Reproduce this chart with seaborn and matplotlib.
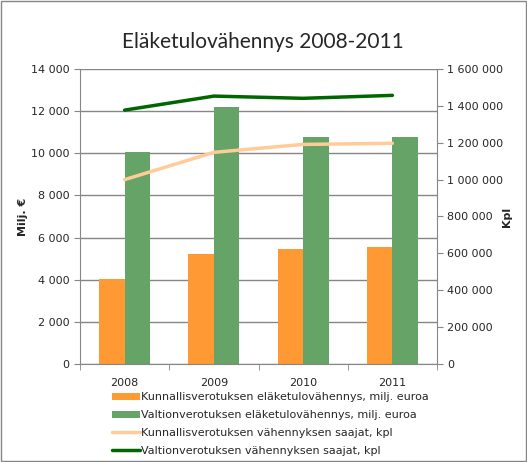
import matplotlib
matplotlib.use("Agg")
import matplotlib.pyplot as plt
import seaborn as sns
import pandas as pd
from matplotlib.patches import Patch, Rectangle
from matplotlib.lines import Line2D
from matplotlib.ticker import FuncFormatter, MultipleLocator

years = ["2008", "2009", "2010", "2011"]
kunnallis_milj = [4020, 5220, 5460, 5550]
valtion_milj = [10060, 12200, 10780, 10780]
kunnallis_saajat = [1000000, 1148000, 1191000, 1197000]
valtion_saajat = [1377000, 1453000, 1441000, 1457000]

series_bars = ["Kunnallisverotuksen eläketulovähennys, milj. euroa",
               "Valtionverotuksen eläketulovähennys, milj. euroa"]
series_lines = ["Kunnallisverotuksen vähennyksen saajat, kpl",
                "Valtionverotuksen vähennyksen saajat, kpl"]

c_orange = "#FF9933"
c_green = "#66A366"
c_light = "#FFCC99"
c_dark = "#006600"

sns.set_style("white")
plt.rcParams['font.family'] = ['DejaVu Sans']

bars_df = pd.DataFrame({
    "year": years * 2,
    "value": kunnallis_milj + valtion_milj,
    "series": [series_bars[0]] * 4 + [series_bars[1]] * 4,
})
lines_df = pd.DataFrame({
    "year": years * 2,
    "value": kunnallis_saajat + valtion_saajat,
    "series": [series_lines[0]] * 4 + [series_lines[1]] * 4,
})

fig = plt.figure(figsize=(5.27, 4.62), dpi=100)
ax = fig.add_axes([80/527, 1 - 364/462, (437-80)/527, (364-69)/462])

sns.barplot(data=bars_df, x="year", y="value", hue="series", ax=ax,
            palette=[c_orange, c_green], width=0.57, saturation=1,
            legend=False, linewidth=0)
ax.set_ylim(0, 14000)
ax.set_xlim(-0.5, 3.5)
ax.yaxis.set_major_locator(MultipleLocator(2000))
fmt = FuncFormatter(lambda v, p: f"{int(v):,}".replace(",", " "))
ax.yaxis.set_major_formatter(fmt)
ax.grid(axis="y", color="#868686", linewidth=1)
ax.set_axisbelow(True)
for s in ["top", "right"]:
    ax.spines[s].set_visible(False)
ax.spines["left"].set_color("#868686")
ax.spines["bottom"].set_color("#868686")
ax.set_xlabel("")
ax.set_ylabel("Milj. €", fontsize=8, fontweight="bold", labelpad=2)
ax.tick_params(axis="y", labelsize=8, length=4, color="#868686", direction="out", left=True)
ax.tick_params(axis="x", labelsize=8, length=0, pad=10)
ax.set_xticks([-0.5, 0.5, 1.5, 2.5, 3.5], minor=True)
ax.tick_params(axis="x", which="minor", length=4, color="#868686", direction="out", bottom=True)

ax2 = ax.twinx()
sns.lineplot(data=lines_df, x="year", y="value", hue="series", ax=ax2,
             palette=[c_light, c_dark], linewidth=2.5, legend=False, sort=False)
ax2.set_ylim(0, 1600000)
ax2.set_xlim(-0.5, 3.5)
ax2.yaxis.set_major_locator(MultipleLocator(200000))
ax2.yaxis.set_major_formatter(fmt)
ax2.grid(False)
for s in ["top", "left", "bottom"]:
    ax2.spines[s].set_visible(False)
ax2.spines["right"].set_color("#868686")
ax2.set_ylabel("Kpl", fontsize=8, fontweight="bold", rotation=90, labelpad=-1)
ax2.tick_params(axis="y", labelsize=8, length=4, color="#868686", direction="out", right=True)

fig.text(263/527, 1 - 42/462, "Eläketulovähennys 2008-2011", ha="center", va="center",
         fontsize=15, family="Lato")

handles = [Patch(facecolor=c_orange, edgecolor="none"),
           Patch(facecolor=c_green, edgecolor="none"),
           Line2D([], [], color=c_light, linewidth=2.5),
           Line2D([], [], color=c_dark, linewidth=2.5)]
fig.legend(handles, series_bars + series_lines, loc="upper left",
           bbox_to_anchor=(112/527, 1 - 392/462), frameon=False, fontsize=8,
           handlelength=2.5, handleheight=0.6, handletextpad=0.15, labelspacing=0.72,
           borderpad=0, borderaxespad=0)

fig.patches.append(Rectangle((0.002, 0.002), 0.996, 0.996, transform=fig.transFigure,
                             fill=False, edgecolor="#868686", linewidth=1))

fig.savefig("out.png", dpi=100)
